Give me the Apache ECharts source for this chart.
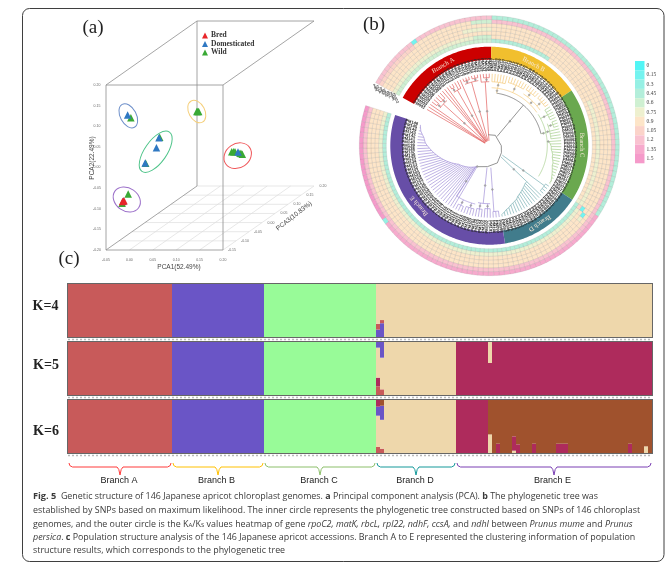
<!DOCTYPE html>
<html><head><meta charset="utf-8">
<style>html,body{margin:0;padding:0;background:#fff}#c{width:670px;height:569px}</style>
<script src="https://cdn.jsdelivr.net/npm/echarts@6/dist/echarts.min.js"></script>
</head><body><div id="c"></div>
<script>
// ---------- panel (a): PCA values [PCA1, PCA2, PCA3]
const bredPts=[[-.034,-.098,-.115],[-.031,-.096,-.115]];
const domesticatedPts=[[-.0325,-.097,-.115],[-.033,.104,-.0975],[-.0145,.010,-.01],[-.020,-.014,-.01],[-.044,-.051,-.01],[.1154,-.0555,.06]];
const wildPts=[[-.022,-.080,-.115],[-.035,-.102,-.115],[-.026,.0975,-.0975],[-.013,.011,-.01],[-.043,-.052,-.01],[-.029,-.004,.165],[-.031,-.004,.165],[-.027,-.004,.165],[.102,-.055,.06],[.106,-.055,.06],[.109,-.055,.06],[.1197,-.0587,.06],[.1246,-.061,.06],[.122,-.059,.06]];
const pcaEllipses=[[-.025,-.093,-.115,14.5,11.5,-35,'#9b6fc9'],[-.0315,.102,-.0975,13,8,-62,'#6c8ec9'],[-.0216,-.024,-.01,24,11,55,'#4fc48a'],[-.031,-.004,.165,12,8,-62,'#f5cf7a'],[.1147,-.0645,.06,14.5,12,35,'#f0575a']];
const pca1Ticks=[-.05,0,.05,.10,.15,.20];
const pca2Ticks=[-.20,-.15,-.10,-.05,0,.05,.10,.15,.20];
const pca3Ticks=[-.15,-.10,-.05,0,.05,.10,.15,.20];
const P1=[-.05,.20],P2=[-.20,.20],P3=[-.15,.20];
// ---------- panel (b)
const branchNames=['Branch A','Branch B','Branch C','Branch D','Branch E'];
const branchCounts=[26,23,28,20,49];
const branchColors=['#cc0000','#f1bf2e','#6aa84f','#417c8c','#674ea7'];
const legendValues=[0,.15,.3,.45,.6,.75,.9,1.05,1.2,1.35,1.5];
const legendColors=['#52f5f5','#74f3ef','#96f0e4','#b3eeda','#cff0d2','#eef0cf','#fde5c8','#fbd3c9','#f9c2d0','#f7aacd','#f59aca'];
const geneNames=['rpoC2','matK','rbcL','rpl22','ndhF','ccsA','ndhI'];
// each ring: run length, value, run length, value ...  (inner to outer)
const ring1=[26,.6,14,.45,36,.9,1,.75,69,.45];
const ring2=[22,.75,4,.6,27,.9,24,.75,1,1.05,68,.75];
const ring3=[26,.9,51,.9,1,.15,4,.9,64,.9];
const ring4=[20,.9,6,.75,52,.9,1,.15,1,.75,91,.9];
const ring5=[26,.9,80,.9,40,.9];
const ring6=[10,1.05,12,.9,4,.6,120,1.2];
const ring7=[10,1.2,1,.15,15,1.2,51,.45,46,1.35,1,.3,22,1.5];
const tipCount=146,gapStart=-61,sweep=349,tipR=72;
// tree: groups [from,to,nodeRadius,parentRadius,stemAngle?], combs [from,[node radii],parentRadius]
const groupsA=[[0,0,5,5],[1,1,5,5],[2,2,5,5],[3,7,62,5],[3,4,66,62],[5,7,65,62],[8,8,5,5],[9,9,5,5],[10,10,5,5],[11,14,64,5],[11,12,68,64],[15,15,5,5],[16,21,66,5],[16,18,69,66],[19,21,69,66],[22,25,64,5],[23,25,68,64]];
const groupsB=[[26,48,58,53,8],[26,31,64,58],[32,38,66,58],[39,48,62,58],[39,43,67,62],[44,48,68,62]];
const groupsC=[[49,76,58,53,77],[49,53,66,58],[54,60,62,58],[54,56,67,62]];
const combsC=[[61,[60,61,62,62,63,64,64,65,66,66,67,68,69,70,71,71],58]];
const groupsD=[[77,80,68,16,126]];
const combsD=[[81,[52,52,53,54,55,56,57,58,60,61,62,63,65,66,68,70],16]];
const groupsE=[[97,99,66,22,176],[100,105,58,22,186],[100,102,63,58],[103,105,64,58],[106,112,60,25,213],[106,109,65,60],[110,112,66,60]];
const combsE=[[113,[24,25,26,27,28,29,30,31,32,33,34,35,36,38,40,42,44,46,48,50,52,54,56,58,60,62,64,65,66,68,70,71,72],24]];
const backbone=[[11,-5],[12,30],[12,90],[14,120],[19,155],[21,185],[24,209]];
// ---------- panel (c)
const k4Order=['blue','red','green','tan'];
const k5Order=['red','crimson','green','tan','blue'];
const k6Order=['red','tan','green','blue','crimson','brown'];
const clusterColors={red:'#c85a5a',blue:'#6a55c6',green:'#98fb98',tan:'#eed7ab',crimson:'#ae2b5c',brown:'#a0522d'};
const k4Branch=['red','blue','green','tan','tan'];
const k5Branch=['red','blue','green','tan','crimson'];
const k6Branch=['red','blue','green','tan','brown'];
const k4Mixed={77:{blue:.14,red:.11,tan:.75},78:{blue:.26,red:.06,tan:.68}};
const k5Mixed={77:{red:.164,crimson:.164,tan:.565,blue:.107},78:{red:.107,tan:.597,blue:.296},105:{crimson:.604,tan:.396}};
const k6Crimson=[97,98,99,100,101,102,103,104];
const k6Mixed={77:{red:.114,tan:.59,blue:.17,crimson:.126},78:{red:.082,tan:.544,blue:.266,brown:.108},105:{tan:.35,brown:.65},107:{crimson:.175,brown:.825},111:{tan:.044,crimson:.27,brown:.686},112:{crimson:.164,brown:.836},116:{crimson:.175,brown:.825},122:{crimson:.175,brown:.825},123:{crimson:.175,brown:.825},124:{crimson:.175,brown:.825},140:{crimson:.175,brown:.825},144:{tan:.125,brown:.875}};
const captionLines=[
 '{fig|Fig. 5}  Genetic structure of 146 Japanese apricot chloroplast genomes. {bd|a} Principal component analysis (PCA). {bd|b} The phylogenetic tree was',
 'established by SNPs based on maximum likelihood. The inner circle represents the phylogenetic tree constructed based on SNPs of 146 chloroplast',
 'genomes, and the outer circle is the K{sub|A}/K{sub|S} values heatmap of gene {it|rpoC2, matK, rbcL, rpl22, ndhF, ccsA,} and {it|ndhI} between {it|Prunus mume} and {it|Prunus}',
 '{it|persica}. {bd|c} Population structure analysis of the 146 Japanese apricot accessions. Branch A to E represented the clustering information of population',
 'structure results, which corresponds to the phylogenetic tree'];

// ---------- helpers
const SERIF='"Liberation Serif",serif',SANS='"Liberation Sans",sans-serif',CAP='"Open Sans",sans-serif';
const frontLeft=106,frontBottom=250,faceW=117,faceH=165,depthX=91,depthY=-64;
function project(p){const d=(p[2]-P3[0])/(P3[1]-P3[0]);
 return [frontLeft+(p[0]-P1[0])/(P1[1]-P1[0])*faceW+depthX*d, frontBottom-(p[1]-P2[0])/(P2[1]-P2[0])*faceH+depthY*d];}
const corner=(a,b,c)=>project([P1[a],P2[b],P3[c]]);
const boxEdges=[[[0,0,0],[1,0,0]],[[1,0,0],[1,1,0]],[[1,1,0],[0,1,0]],[[0,1,0],[0,0,0]],
 [[0,1,1],[1,1,1]],[[0,1,1],[0,0,1]],[[0,1,0],[0,1,1]],[[1,1,0],[1,1,1]],[[0,0,0],[0,0,1]]].map(e=>e.map(c=>corner(...c)));
const floorEdges=[[corner(0,0,1),corner(1,0,1)],[corner(1,0,0),corner(1,0,1)]];
pca1Ticks.slice(1,-1).forEach(v=>floorEdges.push([project([v,P2[0],P3[0]]),project([v,P2[0],P3[1]])]));
pca3Ticks.slice(1,-1).forEach(v=>floorEdges.push([project([P1[0],P2[0],v]),project([P1[1],P2[0],v])]));
const tickTexts=[];
pca1Ticks.forEach(v=>{const q=project([v,P2[0],P3[0]]);tickTexts.push([q[0],q[1]+10,v.toFixed(2)])});
pca2Ticks.forEach(v=>{const q=project([P1[0],v,P3[0]]);tickTexts.push([q[0]-9,q[1],v.toFixed(2)])});
pca3Ticks.forEach(v=>{const q=project([P1[1],P2[0],v]);tickTexts.push([q[0]+9,q[1],v.toFixed(2)])});

const step=sweep/tipCount;
const tipAngle=i=>gapStart+(i+.5)*step;
const norm=a=>((a%360)+360)%360;
const pxy=(api,r,a)=>{const c=api.coord([r,norm(a)]);return [c[0],c[1]]};
function arcPoints(r,a0,a1){const n=Math.max(1,Math.ceil(Math.abs(a1-a0)));const o=[];for(let k=0;k<=n;k++)o.push([r,a0+(a1-a0)*k/n]);return o;}
function buildClade(groups,combs,extra){
 const polys=(extra||[]).slice(),dots=[],outer={};
 groups.forEach(g=>{const [f,t,nr,pr,st]=g;
  for(let i=f;i<=t;i++)outer[i]=Math.max(outer[i]||0,nr);
  const mid=st!==undefined?st:(tipAngle(f)+tipAngle(t))/2;
  if(nr>pr){polys.push([[pr,mid],[nr,mid]]);dots.push([(pr+nr)/2,norm(mid)]);}
  if(t>f||st!==undefined)polys.push(arcPoints(nr,Math.min(tipAngle(f),mid),Math.max(tipAngle(t),mid)));
 });
 (combs||[]).forEach(c=>{const [f,rs,pr]=c;const line=[];
  rs.forEach((r,k)=>{outer[f+k]=r;line.push([r,tipAngle(f+k)])});
  polys.push(line);polys.push([[pr,tipAngle(f)],[rs[0],tipAngle(f)]]);dots.push([(pr+rs[0])/2,norm(tipAngle(f))]);
 });
 Object.keys(outer).forEach(i=>polys.push([[outer[i],tipAngle(+i)],[tipR,tipAngle(+i)]]));
 return {polys,dots};
}
const clades=[
 ['#e2605f',buildClade(groupsA)],
 ['#f3c878',buildClade(groupsB)],
 ['#a6ce8c',buildClade(groupsC,combsC)],
 ['#7bb0b5',buildClade(groupsD,combsD)],
 ['#a392d8',buildClade(groupsE,combsE)],
 ['#666666',{polys:[arcPoints(53,8,77),[[12,40],[53,40]],backbone],dots:[[32,40]]}]
];
const allDots=[];clades.forEach(c=>allDots.push(...c[1].dots));
function treeSeries(color,polys){return {type:'custom',coordinateSystem:'polar',silent:true,z:3,
 data:polys.map((_,i)=>[0,0,i]),
 renderItem:(p,api)=>({type:'polyline',shape:{points:polys[api.value(2)].map(q=>pxy(api,q[0],q[1]))},style:{stroke:color,fill:null,lineWidth:.7}})};}
// heat cells
const heatCells=[];
[ring1,ring2,ring3,ring4,ring5,ring6,ring7].forEach((runs,ri)=>{let t=0;
 for(let k=0;k<runs.length;k+=2)for(let n=0;n<runs[k];n++){if(t<tipCount)heatCells.push([ri,t,runs[k+1]]);t++;}});
const ringIn=103,ringW=27/7;
function sectorPoints(api,r0,r1,a0,a1){const pts=[];arcPoints(r1,a0,a1).forEach(q=>pts.push(pxy(api,q[0],q[1])));arcPoints(r0,a1,a0).forEach(q=>pts.push(pxy(api,q[0],q[1])));return pts;}
const pieces=legendValues.map((v,i)=>({min:v-.074,max:v+.074,label:String(v),color:legendColors[i]}));
// bands
let acc=0;const bandData=branchCounts.map((c,i)=>{const d=[acc,acc+c,i];acc+=c;return d;});
// tip names
const tipNames=Array.from({length:tipCount},(_,i)=>'PM'+String(i+1).padStart(3,'0'));
// structure rows
function rowSeries(order,branchMap,mixed,gridIdx,extraCrimson){
 const owner=[];branchCounts.forEach((c,b)=>{for(let i=0;i<c;i++)owner.push(branchMap[b])});
 (extraCrimson||[]).forEach(i=>owner[i]='crimson');
 return order.map(name=>({type:'bar',name:name+gridIdx,stack:'k'+gridIdx,xAxisIndex:gridIdx,yAxisIndex:gridIdx,barWidth:4,silent:true,z:2,
  itemStyle:{color:clusterColors[name]},
  data:owner.map((o,i)=>{const v=mixed[i]?(mixed[i][name]||0):(o===name?1:0);return v>0?v:null;})}));
}
const rowTops=[284,342,400],rowH=53,plotL=68,sampleW=4;
const rowGrids=rowTops.map(t=>({left:plotL,top:t,width:sampleW*tipCount,height:rowH,show:true,borderColor:'#666',borderWidth:2,backgroundColor:'transparent'}));
const categories=tipNames;
const dashedY=[339.5,397.5,455.5];
const braceColors=['#ff3b3b','#ffc000','#8cbf6a','#14999a','#7a3fb3'];
let bAcc=0;const braces=branchCounts.map((c,i)=>{const d=[plotL+sampleW*bAcc+1,plotL+sampleW*(bAcc+c)-1,i];bAcc+=c;return d;});

const text=(x,y,t,o)=>({type:'text',x,y,silent:true,style:Object.assign({text:t,fill:'#222',font:'10px '+SANS,align:'center',verticalAlign:'middle'},o||{})});
const capSize=8.9;
const capRich={fig:{fontWeight:'bold',fontFamily:CAP,fontSize:capSize+.3,color:'#15506e'},bd:{fontWeight:'bold',fontFamily:CAP,fontSize:capSize,color:'#15506e'},it:{fontStyle:'italic',fontFamily:CAP,fontSize:capSize,color:'#3a3a3a'},sub:{fontFamily:CAP,fontSize:6,color:'#3a3a3a',verticalAlign:'bottom',padding:[3,0,0,0]}};
const capY=[496,510,524,537,550];
const graphicEls=[
 {type:'rect',silent:true,shape:{x:22.5,y:8.5,width:641.5,height:553,r:7},style:{fill:'none',stroke:'#3f3f3f',lineWidth:1}},
 text(93,28,'(a)',{font:'19px '+SERIF}),text(374,25,'(b)',{font:'19px '+SERIF}),text(69,259,'(c)',{font:'19px '+SERIF}),
 text(45.5,306.5,'K=4',{font:'bold 14px '+SERIF}),text(46,365,'K=5',{font:'bold 14px '+SERIF}),text(46,431,'K=6',{font:'bold 14px '+SERIF}),
 text(179,267,'PCA1(52.49%)',{font:'6.5px '+SANS,fill:'#444'}),
 Object.assign(text(92,158,'PCA2(22.49%)',{font:'6.5px '+SANS,fill:'#444'}),{rotation:Math.PI/2}),
 Object.assign(text(294,216,'PCA3(10.83%)',{font:'6.5px '+SANS,fill:'#444'}),{rotation:38*Math.PI/180}),
 text(119,481,'Branch A',{font:'9px '+SANS}),text(216.5,481,'Branch B',{font:'9px '+SANS}),text(319,481,'Branch C',{font:'9px '+SANS}),text(415,481,'Branch D',{font:'9px '+SANS}),text(552.5,481,'Branch E',{font:'9px '+SANS})
];
captionLines.forEach((l,i)=>graphicEls.push({type:'text',x:33,y:capY[i],silent:true,style:{text:l,rich:capRich,fontFamily:CAP,fontSize:capSize,fill:'#3a3a3a',verticalAlign:'middle',align:'left'}}));

const series=[];
// (a)
series.push({type:'custom',xAxisIndex:3,yAxisIndex:3,silent:true,z:1,data:floorEdges.map((_,i)=>[0,0,i]),
 renderItem:(p,api)=>{const e=floorEdges[api.value(2)];return {type:'line',shape:{x1:api.coord(e[0])[0],y1:api.coord(e[0])[1],x2:api.coord(e[1])[0],y2:api.coord(e[1])[1]},style:{stroke:'#dcdcdc',lineWidth:.7}}}});
series.push({type:'custom',xAxisIndex:3,yAxisIndex:3,silent:true,z:1,data:boxEdges.map((_,i)=>[0,0,i]),
 renderItem:(p,api)=>{const e=boxEdges[api.value(2)];return {type:'line',shape:{x1:api.coord(e[0])[0],y1:api.coord(e[0])[1],x2:api.coord(e[1])[0],y2:api.coord(e[1])[1]},style:{stroke:'#8e8e8e',lineWidth:.8}}}});
series.push({type:'custom',xAxisIndex:3,yAxisIndex:3,silent:true,z:1,data:tickTexts.map((_,i)=>[0,0,i]),
 renderItem:(p,api)=>{const t=tickTexts[api.value(2)];const c=api.coord([t[0],t[1]]);return {type:'text',x:c[0],y:c[1],style:{text:t[2],fill:'#666',font:'3.5px '+SANS,align:'center',verticalAlign:'middle'}}}});
series.push({type:'custom',xAxisIndex:3,yAxisIndex:3,silent:true,z:2,data:pcaEllipses.map((_,i)=>[0,0,i]),
 renderItem:(p,api)=>{const e=pcaEllipses[api.value(2)];const q=project(e);const c=api.coord(q);return {type:'ellipse',x:c[0],y:c[1],rotation:e[5]*Math.PI/180,shape:{cx:0,cy:0,rx:e[3],ry:e[4]},style:{fill:null,stroke:e[6],lineWidth:1}}}});
const scat=(name,pts,color)=>({type:'scatter',name,xAxisIndex:3,yAxisIndex:3,symbol:'triangle',symbolSize:7.5,z:3,silent:true,itemStyle:{color,opacity:1},data:pts.map(project)});
series.push(scat('Wild',wildPts,'#39a935'),scat('Domesticated',domesticatedPts,'#2f78c2'),scat('Bred',bredPts,'#e8262a'));
// (b)
const heatIdx=series.length;
series.push({type:'custom',coordinateSystem:'polar',silent:true,z:2,data:heatCells,encode:{radius:0,angle:1},
 renderItem:(p,api)=>{const r=api.value(0),t=api.value(1);
  return {type:'polygon',shape:{points:sectorPoints(api,ringIn+r*ringW,ringIn+(r+1)*ringW,gapStart+t*step,gapStart+(t+1)*step)},style:{fill:api.visual('color'),stroke:'rgba(110,110,110,.3)',lineWidth:.4}}}});
series.push({type:'custom',coordinateSystem:'polar',silent:true,z:2,data:bandData,
 renderItem:(p,api)=>{const i=api.value(2),a0=gapStart+api.value(0)*step,a1=gapStart+api.value(1)*step,mid=(a0+a1)/2;const c=pxy(api,92.5,mid);
  return {type:'group',children:[{type:'polygon',shape:{points:sectorPoints(api,86,99,a0,a1)},style:{fill:branchColors[i]}},
   {type:'text',x:c[0],y:c[1],rotation:-mid*Math.PI/180,style:{text:branchNames[i],fill:'#f6e8d6',font:'6.5px '+SERIF,align:'center',verticalAlign:'middle'}}]}}});
clades.forEach(c=>series.push(treeSeries(c[0],c[1].polys)));
series.push({type:'scatter',coordinateSystem:'polar',symbol:'diamond',symbolSize:3,silent:true,z:4,itemStyle:{color:'#9a9a9a'},data:allDots});
series.push({type:'custom',coordinateSystem:'polar',silent:true,z:4,data:tipNames.map((_,i)=>[0,0,i]),
 renderItem:(p,api)=>{const i=api.value(2),a=norm(tipAngle(i));const c=pxy(api,74.5,a);const left=a>180;
  return {type:'text',x:c[0],y:c[1],rotation:-(a-90)*Math.PI/180+(left?Math.PI:0),style:{text:tipNames[i],fill:'#2a2a2a',font:'bold 4.2px '+SANS,align:left?'right':'left',verticalAlign:'middle'}}}});
series.push({type:'custom',coordinateSystem:'polar',silent:true,z:4,data:geneNames.map((_,i)=>[0,0,i]),
 renderItem:(p,api)=>{const i=api.value(2);const c=pxy(api,ringIn+(i+.5)*ringW,-63);
  return {type:'text',x:c[0],y:c[1],rotation:-70*Math.PI/180,style:{text:geneNames[i],fill:'#333',font:'bold 3.6px '+SANS,align:'center',verticalAlign:'middle'}}}});
// (c)
series.push(...rowSeries(k4Order,k4Branch,k4Mixed,0));
series.push(...rowSeries(k5Order,k5Branch,k5Mixed,1));
series.push(...rowSeries(k6Order,k6Branch,k6Mixed,2,k6Crimson));
dashedY.forEach(y=>series.push({type:'line',xAxisIndex:3,yAxisIndex:3,silent:true,symbol:'none',z:1,lineStyle:{color:'#b9b9b9',width:1.5,type:[2,2]},data:[[plotL,y],[plotL+sampleW*tipCount,y]]}));
series.push({type:'custom',xAxisIndex:3,yAxisIndex:3,silent:true,z:3,data:braces.map((b,i)=>[b[0],463,i]),
 renderItem:(p,api)=>{const b=braces[api.value(2)],x0=b[0],x1=b[1],m=(x0+x1)/2;
  const pts=[[x0,463],[x0+.8,465.6],[x0+3.5,467],[m-3,467],[m-1.2,469.5],[m,475],[m+1.2,469.5],[m+3,467],[x1-3.5,467],[x1-.8,465.6],[x1,463]].map(q=>api.coord(q));
  return {type:'polyline',shape:{points:pts},style:{stroke:braceColors[b[2]],fill:null,lineWidth:1}}}});

const hiddenVal=(g,o)=>Object.assign({type:'value',gridIndex:g,show:false},o);
const option={animation:false,backgroundColor:'#fff',
 grid:[...rowGrids,{left:0,top:0,width:670,height:569,show:false}],
 xAxis:[0,1,2].map(g=>({type:'category',gridIndex:g,data:categories,show:false})).concat([hiddenVal(3,{min:0,max:670})]),
 yAxis:[0,1,2].map(g=>hiddenVal(g,{min:0,max:1})).concat([hiddenVal(3,{min:0,max:569,inverse:true})]),
 polar:{center:[489.3,145.7],radius:130},
 radiusAxis:{min:0,max:130,show:false},
 angleAxis:{type:'value',min:0,max:360,startAngle:90,clockwise:true,show:false},
 legend:{orient:'vertical',left:197,top:26.5,itemWidth:6,itemHeight:6,itemGap:.5,icon:'triangle',data:['Bred','Domesticated','Wild'],textStyle:{fontFamily:SERIF,fontSize:7.5,color:'#333',fontWeight:'bold',padding:[0,0,0,-2]},selectedMode:false},
 visualMap:{type:'piecewise',seriesIndex:heatIdx,dimension:2,inverse:true,orient:'vertical',left:620,top:46,align:'left',itemWidth:9.5,itemHeight:9.3,itemGap:0,itemSymbol:'rect',textGap:2,hoverLink:false,selectedMode:false,pieces,textStyle:{fontFamily:SERIF,fontSize:5.5,color:'#444'}},
 graphic:{elements:graphicEls},
 series};
const chart=echarts.init(document.getElementById('c'),null,{renderer:'canvas'});
chart.setOption(option);
</script></body></html>
